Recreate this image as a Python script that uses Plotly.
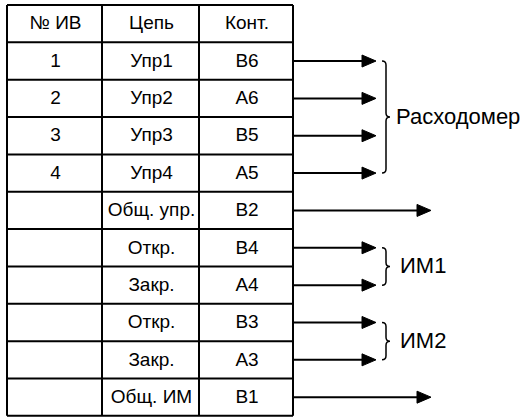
import plotly.graph_objects as go

# ---- data ----
headers = ["№ ИВ", "Цепь", "Конт."]
col_iv = ["1", "2", "3", "4", "", "", "", "", "", ""]
col_chain = ["Упр1", "Упр2", "Упр3", "Упр4", "Общ. упр.", "Откр.", "Закр.", "Откр.", "Закр.", "Общ. ИМ"]
col_cont = ["B6", "A6", "B5", "A5", "B2", "B4", "A4", "B3", "A3", "B1"]
# arrow type per row: "short" goes to a brace group, "long" stands alone
arrow_kind = ["short", "short", "short", "short", "long", "short", "short", "short", "short", "long"]
groups = [("Расходомер", 0, 3), ("ИМ1", 5, 6), ("ИМ2", 7, 8)]

# ---- geometry ----
W, H = 524, 419
col_x = [7, 102, 199, 293]
top, row_h = 5, 37.35
n_rows = len(col_chain) + 1
row_y = [top + i * row_h for i in range(n_rows + 1)]
short_tip, long_tip = 376, 431
head_len, head_half = 14, 6
FONT = "Liberation Sans, Arial, sans-serif"

fig = go.Figure()
shapes = []
# grid
for x in col_x:
    shapes.append(dict(type="line", x0=x, x1=x, y0=row_y[0], y1=row_y[-1],
                       line=dict(color="black", width=2)))
for y in row_y:
    shapes.append(dict(type="line", x0=col_x[0], x1=col_x[-1], y0=y, y1=y,
                       line=dict(color="black", width=2)))

def center(i):
    return (row_y[i] + row_y[i + 1]) / 2

# cell text
all_rows = [headers] + [[a, b, c] for a, b, c in zip(col_iv, col_chain, col_cont)]
for ci in range(3):
    xs, ys, ts = [], [], []
    for ri, row in enumerate(all_rows):
        xs.append((col_x[ci] + col_x[ci + 1]) / 2 + 1)
        ys.append(center(ri) + 1)
        ts.append(row[ci])
    fig.add_trace(go.Scatter(x=xs, y=ys, text=ts, mode="text",
                             textfont=dict(family=FONT, size=19, color="black"),
                             hoverinfo="skip", showlegend=False))

# arrows
for i, kind in enumerate(arrow_kind):
    y = center(i + 1)
    tip = short_tip if kind == "short" else long_tip
    shapes.append(dict(type="line", x0=col_x[-1], x1=tip - head_len + 1, y0=y, y1=y,
                       line=dict(color="black", width=2)))
    shapes.append(dict(type="path",
                       path=f"M{tip - head_len},{y - head_half} L{tip},{y} L{tip - head_len},{y + head_half} Z",
                       fillcolor="black", line=dict(color="black", width=1)))

# braces
bx0 = 382
for label, a, b in groups:
    y0 = center(a + 1)
    y1 = center(b + 1)
    ym = (y0 + y1) / 2
    xv = bx0 + 4
    xt = bx0 + 8
    p = (f"M{bx0},{y0} Q{xv},{y0} {xv},{y0 + 4} L{xv},{ym - 4} "
         f"Q{xv},{ym} {xt},{ym} Q{xv},{ym} {xv},{ym + 4} "
         f"L{xv},{y1 - 4} Q{xv},{y1} {bx0},{y1}")
    shapes.append(dict(type="path", path=p, line=dict(color="black", width=1.5)))
    tx = bx0 + 14 if label == "Расходомер" else bx0 + 18
    fig.add_trace(go.Scatter(x=[tx], y=[ym + 1.5], text=[label], mode="text",
                             textposition="middle right",
                             textfont=dict(family=FONT, size=22, color="black"),
                             hoverinfo="skip", showlegend=False))

fig.update_layout(
    width=W, height=H, margin=dict(l=0, r=0, t=0, b=0),
    paper_bgcolor="white", plot_bgcolor="white",
    xaxis=dict(range=[0, W], visible=False, fixedrange=True),
    yaxis=dict(range=[H, 0], visible=False, fixedrange=True),
    shapes=shapes, showlegend=False,
)
fig.write_html("out.html", config={"displayModeBar": False},
               post_script="document.body.style.margin='0';document.body.style.overflow='hidden';")
